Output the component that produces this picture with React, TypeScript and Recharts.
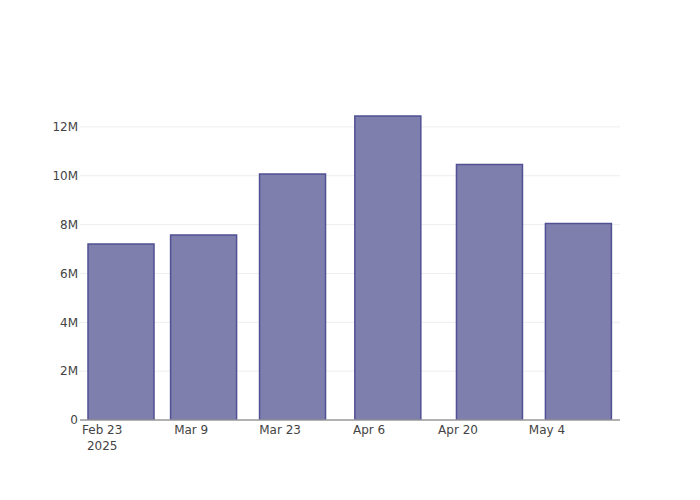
import React from "react";
import { BarChart, Bar, XAxis, YAxis, CartesianGrid } from "recharts";

const dates = ["2025-02-26", "2025-03-11", "2025-03-25", "2025-04-09", "2025-04-25", "2025-05-09"];
const values = [7200000, 7570000, 10070000, 12450000, 10460000, 8040000];
const xTickDates = ["2025-02-23", "2025-03-09", "2025-03-23", "2025-04-06", "2025-04-20", "2025-05-04"];
const yTicks = [0, 2000000, 4000000, 6000000, 8000000, 10000000, 12000000];
const monthNames = ["Jan", "Feb", "Mar", "Apr", "May", "Jun", "Jul", "Aug", "Sep", "Oct", "Nov", "Dec"];

const DAY = 86400000;
const toTs = (s: string) => new Date(s + "T00:00:00Z").getTime();

const data = dates.map((d, i) => ({ t: toTs(d), v: values[i] }));
const xTicks = xTickDates.map(toTs);
const xDomain = [toTs("2025-02-19") + DAY / 2, toTs("2025-05-15") + DAY / 2];

const FONT = "'DejaVu Sans', sans-serif";

const fmtY = (v: number) => (v === 0 ? "0" : `${v / 1000000}M`);

const XTick = (props: any) => {
  const { x, y, payload, index } = props;
  const d = new Date(payload.value);
  const label = `${monthNames[d.getUTCMonth()]} ${d.getUTCDate()}`;
  return (
    <g>
      <text x={x} y={y + 13.5} textAnchor="middle" fontSize={12} fill="#444" fontFamily={FONT}>
        {label}
      </text>
      {index === 0 && (
        <text x={x} y={y + 29.5} textAnchor="middle" fontSize={12} fill="#444" fontFamily={FONT}>
          {d.getUTCFullYear()}
        </text>
      )}
    </g>
  );
};

export default function App() {
  return (
    <div style={{ position: "absolute", left: 0, top: 0, background: "#fff" }}>
      <BarChart
        width={700}
        height={500}
        data={data}
        margin={{ top: 100, right: 80, bottom: 0, left: 0 }}
      >
        <CartesianGrid horizontal vertical={false} stroke="#eee" strokeWidth={1} horizontalValues={yTicks.slice(1)} />
        <XAxis
          dataKey="t"
          type="number"
          scale="linear"
          domain={xDomain}
          ticks={xTicks}
          tick={<XTick />}
          tickLine={false}
          tickSize={0}
          tickMargin={0}
          axisLine={{ stroke: "#999", strokeWidth: 1.5 }}
          allowDataOverflow
          interval={0}
          height={80}
        />
        <YAxis
          type="number"
          domain={[0, 13100000]}
          ticks={yTicks}
          tickFormatter={fmtY}
          width={80}
          tickLine={false}
          tickSize={0}
          tickMargin={2}
          axisLine={false}
          interval={0}
          allowDataOverflow
          tick={{ fontSize: 12, fill: "#444", fontFamily: FONT }}
        />
        <Bar
          dataKey="v"
          barSize={66}
          fill="rgb(127,127,174)"
          stroke="rgb(80,80,148)"
          strokeWidth={1.5}
          isAnimationActive={false}
        />
      </BarChart>
    </div>
  );
}
